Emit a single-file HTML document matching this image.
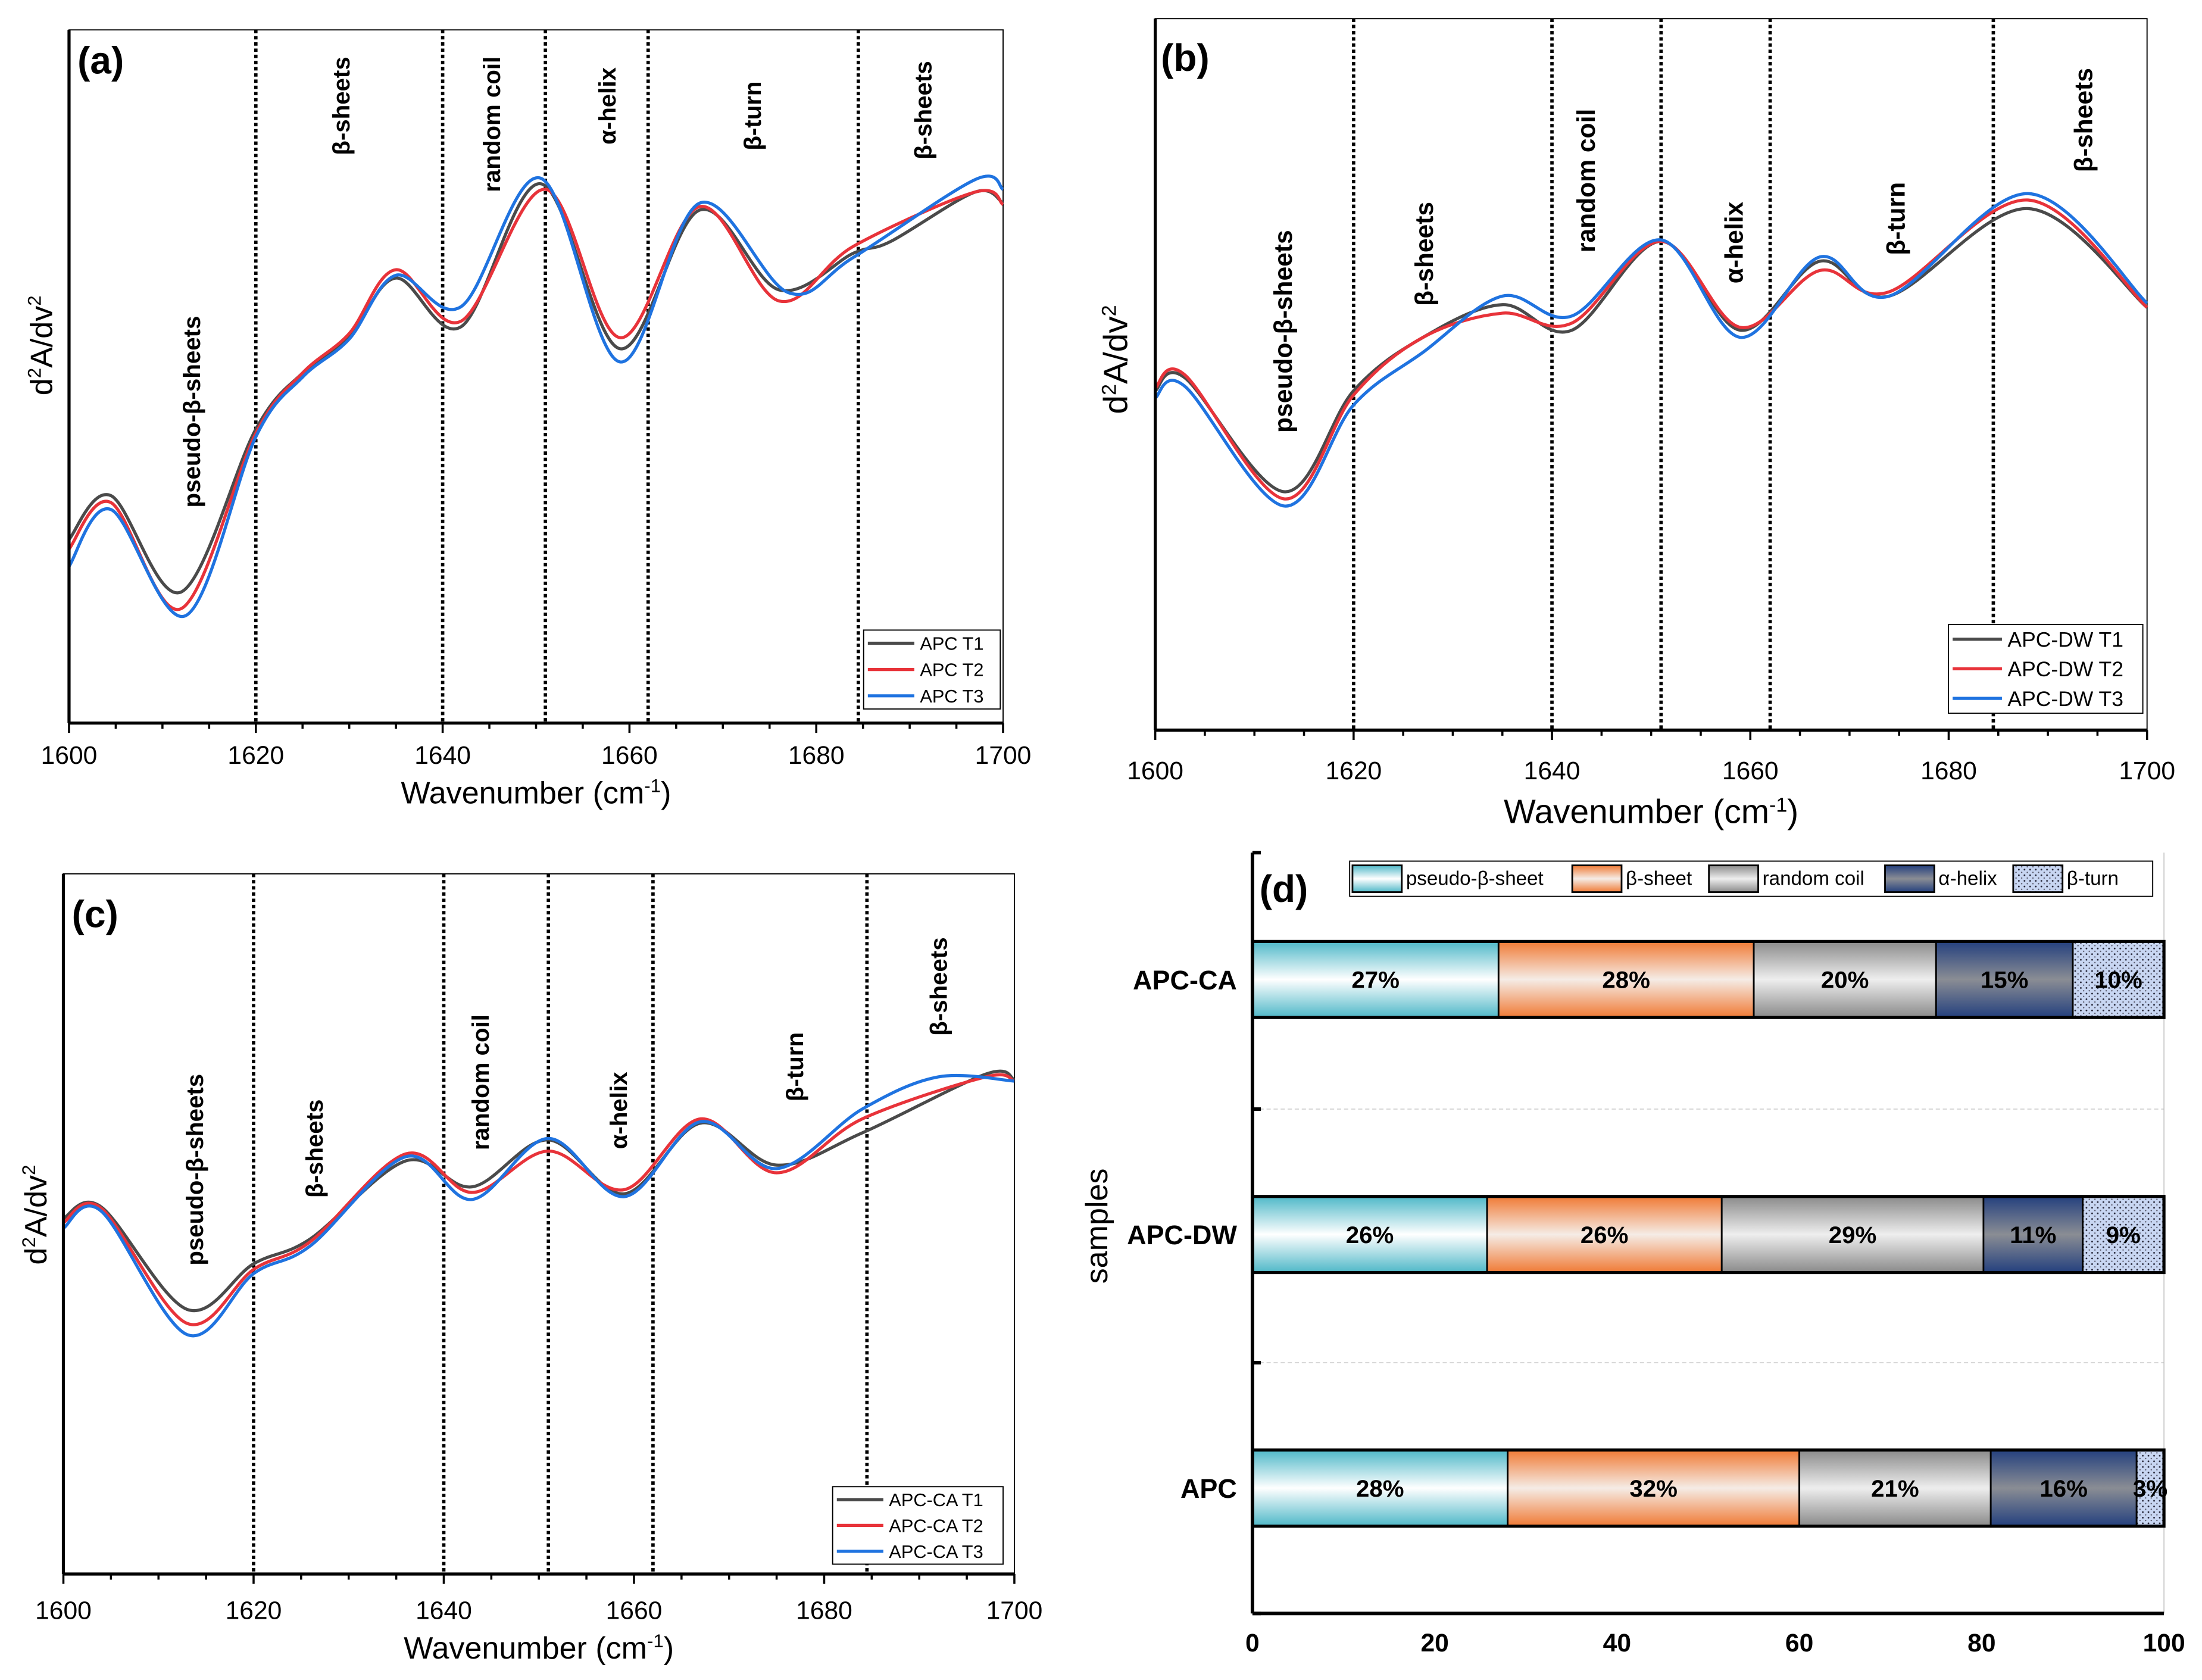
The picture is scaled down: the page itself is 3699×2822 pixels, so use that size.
<!DOCTYPE html>
<html><head><meta charset="utf-8"><style>
html,body{margin:0;padding:0;background:#fff;}
svg{display:block;font-family:"Liberation Sans",sans-serif;}
</style></head><body>
<svg id="fig" width="3699" height="2822" viewBox="0 0 1563 1192" xmlns="http://www.w3.org/2000/svg">
<defs>
<linearGradient id="gPseudo" x1="0" y1="0" x2="0" y2="1"><stop offset="0" stop-color="#4fb8c8"/><stop offset="0.5" stop-color="#ffffff"/><stop offset="1" stop-color="#4fb8c8"/></linearGradient>
<linearGradient id="gBeta" x1="0" y1="0" x2="0" y2="1"><stop offset="0" stop-color="#f07a35"/><stop offset="0.5" stop-color="#f5ece6"/><stop offset="1" stop-color="#f07a35"/></linearGradient>
<linearGradient id="gRand" x1="0" y1="0" x2="0" y2="1"><stop offset="0" stop-color="#8a8a8a"/><stop offset="0.5" stop-color="#eeeeee"/><stop offset="1" stop-color="#8a8a8a"/></linearGradient>
<linearGradient id="gAlpha" x1="0" y1="0" x2="0" y2="1"><stop offset="0" stop-color="#24407e"/><stop offset="0.5" stop-color="#8a8d94"/><stop offset="1" stop-color="#24407e"/></linearGradient>
<pattern id="pTurn" width="4" height="4" patternUnits="userSpaceOnUse"><rect width="4" height="4" fill="#c8d6f2"/><circle cx="1" cy="1" r="0.6" fill="#223"/><circle cx="3" cy="3" r="0.5" fill="#556"/></pattern>
</defs>
</svg>
<script>
// ---- Spectra data (wavenumber, relative d2A/dv2 value; 0=bottom,100=top of plot) ----
const aT1x=[1600,1604.5,1612,1620,1625,1630,1635,1642,1650.5,1659,1667.5,1676,1684,1688,1697,1700];
const aT1y=[26.5,32.8,18.9,42.4,50.5,55.6,64.2,57.2,77.8,54.0,74.0,62.5,67.8,69.5,76.6,75.0];
const aT2x=[1600,1604.5,1612,1620,1625,1630,1635,1642,1651,1659,1667.5,1676,1684,1697,1700];
const aT2y=[25.1,31.8,16.5,41.8,50.5,56.2,65.4,58.0,77.0,55.6,74.5,60.9,68.8,76.6,74.8];
const aT3x=[1600,1604.5,1612.5,1620,1625,1630,1635,1642,1650.5,1659,1667.5,1677,1684,1697,1700];
const aT3y=[22.6,30.8,15.5,41.3,49.9,55.4,64.6,60.1,78.6,52.1,75.0,62.1,67.2,78.4,77.0];

const bT1x=[1600,1603,1613,1620,1627,1635,1642,1651,1659,1667,1674,1688,1700];
const bT1y=[47.7,49.5,33.5,47.7,55.2,59.8,56.2,68.7,56.2,65.9,61.0,73.3,59.4];
const bT2x=[1600,1603,1613,1620,1627,1635,1642,1651,1659,1667,1674,1688,1700];
const bT2y=[48.1,49.9,32.5,47.1,55.2,58.6,57.2,68.7,56.6,64.6,61.6,74.5,59.4];
const bT3x=[1600,1603,1613,1620,1627,1635,1642,1651,1659,1667,1674,1688,1700];
const bT3y=[46.7,48.3,31.5,45.7,53.1,61.0,58.2,68.9,55.2,66.5,61.0,75.4,60.0];

const cT1x=[1600,1604,1613,1620,1626,1636,1643,1651,1659,1667,1675,1684,1697,1700];
const cT1y=[50.8,52.4,37.8,44.3,47.9,59.0,55.3,62.0,54.3,64.4,58.4,63.0,71.4,70.6];
const cT2x=[1600,1604,1613,1620,1626,1636,1643,1651,1659,1667,1675,1684,1697,1700];
const cT2y=[50.2,52.2,35.8,43.5,47.5,60.0,54.5,60.4,54.9,65.0,57.3,65.0,71.0,70.4];
const cT3x=[1600,1604,1613,1620,1626,1636,1643,1651,1659,1667,1675,1684,1692,1700];
const cT3y=[49.4,51.8,34.2,42.9,46.9,59.6,53.5,62.2,53.9,64.6,57.9,66.4,71.0,70.4];

const xTicks=[1600,1620,1640,1660,1680,1700];
const regionLines=[1620,1640,1651,1662,1684.5];

// ---- Bar chart data ----
const barCats=["APC-CA","APC-DW","APC"];
const pseudoVals=[27,26,28];
const betaVals=[28,26,32];
const randVals=[20,29,21];
const alphaVals=[15,11,16];
const turnVals=[10,9,3];
const barLabels=[["27%","28%","20%","15%","10%"],["26%","26%","29%","11%","9%"],["28%","32%","21%","16%","3%"]];
const barTicks=[0,20,40,60,80,100];

const svg=document.getElementById('fig');
const NS='http://www.w3.org/2000/svg';
function mk(tag,attrs,parent){const e=document.createElementNS(NS,tag);for(const k in attrs)e.setAttribute(k,attrs[k]);(parent||svg).appendChild(e);return e;}
function txt(s,attrs,parent){const e=mk('text',attrs,parent);e.textContent=s;return e;}

function smoothPath(pts){
  let d='M'+pts[0][0].toFixed(2)+','+pts[0][1].toFixed(2);
  for(let i=0;i<pts.length-1;i++){
    const p0=pts[Math.max(0,i-1)],p1=pts[i],p2=pts[i+1],p3=pts[Math.min(pts.length-1,i+2)];
    const c1x=p1[0]+(p2[0]-p0[0])/6,c1y=p1[1]+(p2[1]-p0[1])/6;
    const c2x=p2[0]-(p3[0]-p1[0])/6,c2y=p2[1]-(p3[1]-p1[1])/6;
    d+=' C'+c1x.toFixed(2)+','+c1y.toFixed(2)+' '+c2x.toFixed(2)+','+c2y.toFixed(2)+' '+p2[0].toFixed(2)+','+p2[1].toFixed(2);
  }
  return d;
}

function spectrumPanel(cfg){
  const g=mk('g',{});
  
  
  const X=v=>cfg.x0+(v-1600)/100*(cfg.x1-cfg.x0);
  const Y=v=>cfg.y1-v/100*(cfg.y1-cfg.y0);
  const fr=mk('rect',{x:cfg.x0,y:cfg.y0,width:cfg.x1-cfg.x0,height:cfg.y1-cfg.y0,fill:'none',stroke:'#000','stroke-width':0.8},g);
  
  regionLines.forEach(w=>{
    const l=mk('line',{x1:X(w),x2:X(w),y1:cfg.y0,y2:cfg.y1,stroke:'#000','stroke-width':2.4,'stroke-dasharray':'2.4,2'},g);
    
  });
  const cols=['#4a4a4a','#e8333a','#1f73e0'];
  cfg.series.forEach((s,i)=>{
    const pts=s[0].map((w,j)=>[X(w),Y(s[1][j])]);
    const p=mk('path',{d:smoothPath(pts),fill:'none',stroke:cols[i],'stroke-width':2.2},g);
    
  });
  const ax=mk('line',{x1:cfg.x0,x2:cfg.x1,y1:cfg.y1,y2:cfg.y1,stroke:'#000','stroke-width':2.2},g);
  
  const ay=mk('line',{x1:cfg.x0,x2:cfg.x0,y1:cfg.y0,y2:cfg.y1,stroke:'#000','stroke-width':2.2},g);
  
  for(let w=1600;w<=1700;w+=5){
    const len=(w%20===0)?7:4;
    mk('line',{x1:X(w),x2:X(w),y1:cfg.y1,y2:cfg.y1+len,stroke:'#000','stroke-width':1.5},g);
  }
  xTicks.forEach(w=>{
    const t=txt(String(w),{x:X(w),y:cfg.tickY,'text-anchor':'middle','font-size':18},g);
    
  });
  const xt=mk('text',{x:(cfg.x0+cfg.x1)/2,y:cfg.titleY,'text-anchor':'middle','font-size':cfg.titleSize},g);
  
  xt.innerHTML='Wavenumber (cm<tspan dy="-8" font-size="'+(cfg.titleSize*0.6)+'">-1</tspan><tspan dy="8">)</tspan>';
  const yt=mk('text',{transform:'translate('+cfg.yTitleX+','+cfg.yTitleY+') rotate(-90)','text-anchor':'middle','font-size':cfg.titleSize},g);
  
  yt.innerHTML='d<tspan dy="-8" font-size="'+(cfg.titleSize*0.6)+'">2</tspan><tspan dy="8">A/dv</tspan><tspan dy="-8" font-size="'+(cfg.titleSize*0.6)+'">2</tspan>';
  const pl=txt(cfg.letter,{x:cfg.letterX,y:cfg.letterY,'font-size':27,'font-weight':'bold'},g);
  
  cfg.labels.forEach(L=>{
    const t=txt(L[0],{transform:'translate('+L[1]+','+L[2]+') rotate(-90)','text-anchor':'middle','font-size':cfg.labelSize||17,'font-weight':'bold'},g);
    
  });
  const lg=mk('g',{},g);
  
  mk('rect',{x:cfg.leg[0],y:cfg.leg[1],width:cfg.leg[2],height:cfg.leg[3],fill:'#fff',stroke:'#000','stroke-width':0.8},lg);
  const rowH=cfg.leg[3]/3;
  cfg.legNames.forEach((n,i)=>{
    const yy=cfg.leg[1]+rowH*(i+0.5);
    mk('line',{x1:cfg.leg[0]+3,x2:cfg.leg[0]+cfg.legLine,y1:yy,y2:yy,stroke:cols[i],'stroke-width':2.2},lg);
    const t=txt(n,{x:cfg.leg[0]+cfg.legLine+4,y:yy+cfg.legFont*0.36,'font-size':cfg.legFont},lg);
    
  });
}

spectrumPanel({name:'panel-a',x0:49,x1:712,y0:21,y1:513,tickY:542,titleY:570,titleSize:22,yTitleX:37,yTitleY:245,
  letter:'(a)',letterX:55,letterY:52,
  series:[[aT1x,aT1y],[aT2x,aT2y],[aT3x,aT3y]],
  labels:[['pseudo-β-sheets',142,292],['β-sheets',248,75],['random coil',355,88],['α-helix',437,75],['β-turn',540,82],['β-sheets',661,78]],
  leg:[613,447,97,56],legNames:['APC T1','APC T2','APC T3'],legLine:36,legFont:13});
spectrumPanel({name:'panel-b',x0:820,x1:1524,y0:13,y1:518,tickY:553,titleY:584,titleSize:24,yTitleX:800,yTitleY:255,
  letter:'(b)',letterX:824,letterY:50,
  series:[[bT1x,bT1y],[bT2x,bT2y],[bT3x,bT3y]],
  labels:[['pseudo-β-sheets',917,235],['β-sheets',1017,180],['random coil',1132,128],['α-helix',1237,172],['β-turn',1352,155],['β-sheets',1485,85]],
  labelSize:18,
  leg:[1383,443,138,63],legNames:['APC-DW T1','APC-DW T2','APC-DW T3'],legLine:38,legFont:15});
spectrumPanel({name:'panel-c',x0:45,x1:720,y0:620,y1:1117,tickY:1149,titleY:1177,titleSize:22,yTitleX:33,yTitleY:862,
  letter:'(c)',letterX:51,letterY:658,
  series:[[cT1x,cT1y],[cT2x,cT2y],[cT3x,cT3y]],
  labels:[['pseudo-β-sheets',144,830],['β-sheets',229,815],['random coil',347,768],['α-helix',445,788],['β-turn',570,757],['β-sheets',672,700]],
  leg:[591,1055,121,55],legNames:['APC-CA T1','APC-CA T2','APC-CA T3'],legLine:36,legFont:13});

// ---- Bar chart (d) ----
(function(){
  const g=mk('g',{});
  
  
  const x0=889,x1=1536,yTop=605,yBot=1145;
  const X=v=>x0+v/100*(x1-x0);
  const catCenters=[695,876,1056];
  const barH=54;
  [787,967].forEach(y=>{mk('line',{x1:x0,x2:x1,y1:y,y2:y,stroke:'#ccc','stroke-width':0.6,'stroke-dasharray':'3,2'},g);});
  mk('line',{x1:x1,x2:x1,y1:yTop,y2:yBot,stroke:'#bbb','stroke-width':0.6},g);
  const fills=['url(#gPseudo)','url(#gBeta)','url(#gRand)','url(#gAlpha)','url(#pTurn)'];
  const series=[pseudoVals,betaVals,randVals,alphaVals,turnVals];
  const segNames=['pseudo-beta-sheet','beta-sheet','random-coil','alpha-helix','beta-turn'];
  barCats.forEach((c,i)=>{
    let total=0;series.forEach(s=>total+=s[i]);
    const sc=100/total;
    let acc=0;
    const y=catCenters[i]-barH/2;
    series.forEach((s,k)=>{
      const v=s[i]*sc;
      const r=mk('rect',{x:X(acc),y:y,width:X(acc+v)-X(acc),height:barH,fill:fills[k],stroke:'#000','stroke-width':1.2},g);
      
      
      const t=txt(barLabels[i][k],{x:(X(acc)+X(acc+v))/2,y:catCenters[i]+6,'text-anchor':'middle','font-size':17,'font-weight':'bold'},g);
      
      acc+=v;
    });
    mk('rect',{x:X(0),y:y,width:X(acc)-X(0),height:barH,fill:'none',stroke:'#000','stroke-width':2.2},g);
    const cl=txt(c,{x:878,y:catCenters[i]+7,'text-anchor':'end','font-size':19,'font-weight':'bold'},g);
    
  });
  const ax=mk('line',{x1:x0,x2:x1,y1:yBot,y2:yBot,stroke:'#000','stroke-width':2.5},g);
  
  const ay=mk('line',{x1:x0,x2:x0,y1:yTop,y2:yBot,stroke:'#000','stroke-width':2.5},g);
  
  [605,787,967,1145].forEach(y=>mk('line',{x1:x0,x2:x0+6,y1:y,y2:y,stroke:'#000','stroke-width':2.5},g));
  barTicks.forEach(v=>{
    const t=txt(String(v),{x:X(v),y:1172,'text-anchor':'middle','font-size':18,'font-weight':'bold'},g);
    
  });
  const yt=txt('samples',{transform:'translate(786,870) rotate(-90)','text-anchor':'middle','font-size':22},g);
  
  const pl=txt('(d)',{x:894,y:640,'font-size':27,'font-weight':'bold'},g);
  
  const lg=mk('g',{},g);
  
  mk('rect',{x:958,y:611,width:570,height:25,fill:'#fff',stroke:'#000','stroke-width':0.8},lg);
  const legNames=['pseudo-β-sheet','β-sheet','random coil','α-helix','β-turn'];
  const legX=[960,1116,1213,1338,1429];
  legNames.forEach((n,k)=>{
    mk('rect',{x:legX[k],y:614,width:35,height:19,fill:fills[k],stroke:'#000','stroke-width':1.2},lg);
    const t=txt(n,{x:legX[k]+38,y:628,'font-size':14},lg);
    
  });
})();
</script>
</body></html>
